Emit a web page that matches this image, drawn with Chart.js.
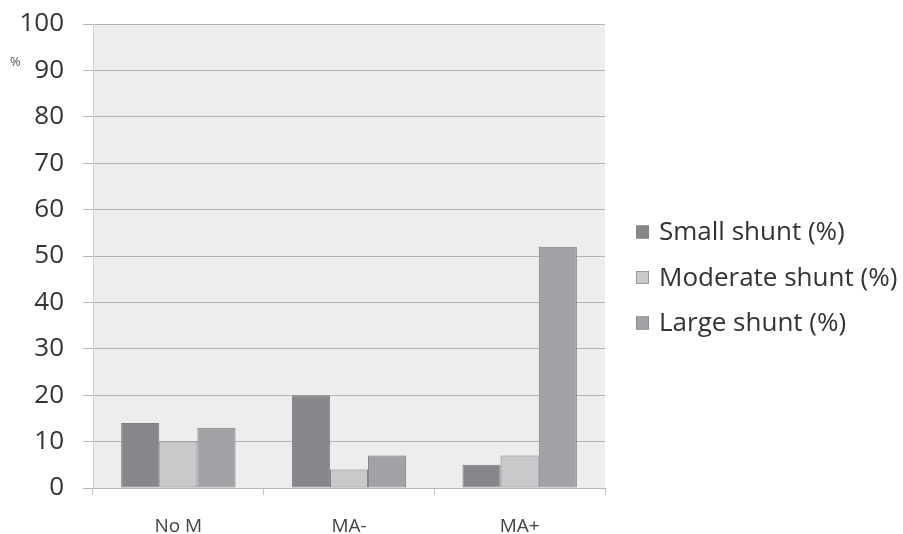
<!DOCTYPE html>
<html>
<head>
<meta charset="utf-8">
<script src="https://cdn.jsdelivr.net/npm/chart.js@4/dist/chart.umd.min.js"></script>
<style>
  html, body { margin: 0; padding: 0; background: #ffffff; }
  #wrap { width: 903px; height: 534px; position: relative; }
</style>
</head>
<body>
<div id="wrap"><canvas id="c" width="903" height="534"></canvas></div>
<script>
// Shunt size distribution by group
const categories = ['No M', 'MA-', 'MA+'];
const smallShunt = [14, 20, 5];
const moderateShunt = [10, 4, 7];
const largeShunt = [13, 7, 52];
const seriesLabels = ['Small shunt (%)', 'Moderate shunt (%)', 'Large shunt (%)'];
const yTicks = [0, 10, 20, 30, 40, 50, 60, 70, 80, 90, 100];

const FONT = '"Open Sans", Lato, sans-serif';
const fills = ['#86878b', '#c8c9cb', '#a1a2a6'];
const edge = '#7c7c80';

// grey plot background behind the bars
const plotBackground = {
  id: 'plotBackground',
  beforeDraw(chart) {
    const { ctx, chartArea: a } = chart;
    ctx.save();
    ctx.fillStyle = '#ededed';
    ctx.fillRect(a.left, a.top, a.right - a.left, a.bottom - a.top);
    ctx.restore();
  }
};

// right-hand legend and the small unit label
const sideLegend = {
  id: 'sideLegend',
  afterDraw(chart) {
    const { ctx, chartArea: a } = chart;
    ctx.save();
    ctx.font = '13px ' + FONT;
    ctx.fillStyle = '#555';
    ctx.textAlign = 'left';
    ctx.textBaseline = 'middle';
    ctx.fillText('%', 10, 62);

    ctx.font = '26px ' + FONT;
    const x0 = a.right + 31;
    const yc0 = 232, step = 45.5;
    chart.data.datasets.forEach((ds, i) => {
      const yc = yc0 + i * step;
      ctx.fillStyle = ds.backgroundColor;
      ctx.fillRect(x0, yc - 6.5, 13, 13);
      ctx.strokeStyle = ds.borderColor;
      ctx.lineWidth = 0.6;
      ctx.strokeRect(x0 + 0.3, yc - 6.2, 12.4, 12.4);
      ctx.fillStyle = '#333';
      ctx.fillText(ds.label, x0 + 23, yc + 1);
    });
    ctx.restore();
  }
};

const seriesValues = [smallShunt, moderateShunt, largeShunt];

new Chart(document.getElementById('c'), {
  type: 'bar',
  data: {
    labels: categories,
    datasets: seriesValues.map((vals, i) => ({
      label: seriesLabels[i],
      data: vals,
      backgroundColor: fills[i],
      borderColor: edge,
      borderWidth: 1,
      borderSkipped: false,
      barPercentage: 1.0,
      categoryPercentage: 0.67
    }))
  },
  options: {
    responsive: false,
    animation: false,
    layout: { padding: { top: 24, right: 298, bottom: 0, left: 0 } },
    plugins: {
      legend: { display: false },
      tooltip: { enabled: false }
    },
    scales: {
      x: {
        grid: {
          offset: true,
          drawOnChartArea: false,
          drawTicks: true,
          tickLength: 7,
          color: '#c4c4c4'
        },
        border: { display: true, color: '#b5b5b5' },
        ticks: {
          font: { family: FONT, size: 19 },
          color: '#444',
          padding: 20
        },
        afterFit(scale) { scale.height = 46; scale.paddingLeft = 0; scale.paddingRight = 0; }
      },
      y: {
        min: 0,
        max: 100,
        afterBuildTicks(scale) { scale.ticks = yTicks.map(v => ({ value: v })); },
        grid: {
          color: '#b5b5b5',
          drawTicks: true,
          tickLength: 10
        },
        border: { display: true, color: '#cfcfcf' },
        ticks: {
          font: { family: FONT, size: 26 },
          color: '#333',
          padding: 19
        },
        afterFit(scale) { scale.width = 93; scale.paddingTop = 0; scale.paddingBottom = 0; }
      }
    }
  },
  plugins: [plotBackground, sideLegend]
});
</script>
</body>
</html>
